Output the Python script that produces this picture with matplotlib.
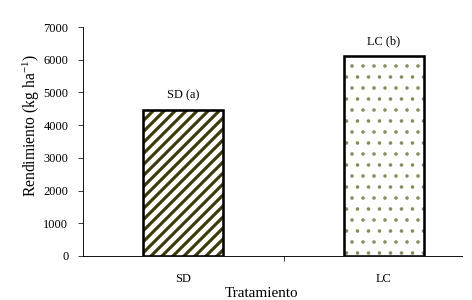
import numpy as np
import matplotlib
matplotlib.use("Agg")
import matplotlib.pyplot as plt

# data
tratamientos = ['SD', 'LC']
rendimiento = [4470, 6100]
letras = ['a', 'b']
yticks = [0, 1000, 2000, 3000, 4000, 5000, 6000, 7000]

plt.rcParams['font.family'] = ['Liberation Serif', 'DejaVu Serif']
plt.rcParams['mathtext.fontset'] = 'stix'

DPI = 66
fig = plt.figure(figsize=(472 / DPI, 300 / DPI), dpi=DPI)
ax = fig.add_axes([83 / 472, 1 - 256 / 300, (462 - 83) / 472, (256 - 27) / 300])

x = np.arange(len(tratamientos))
hatches = ['//', '.']
hcolors = ['#3b3b0a', '#8c8c62']
hlw = [3.4, 1.5]

for i in range(len(x)):
    with plt.rc_context({'hatch.linewidth': hlw[i]}):
        ax.bar(x[i], rendimiento[i], width=0.4, color='white',
               edgecolor=hcolors[i], hatch=hatches[i], linewidth=0, zorder=2)
    ax.bar(x[i], rendimiento[i], width=0.4, color='none',
           edgecolor='black', linewidth=2.8, zorder=3)
    ax.annotate(f'{tratamientos[i]} ({letras[i]})', (x[i], rendimiento[i]),
                xytext=(0, 9.5), textcoords='offset points',
                ha='center', va='bottom', fontsize=13.5)

ax.set_xlim(-0.4975, 1.388)
ax.set_ylim(0, 7000)
ax.set_yticks(yticks)
ax.tick_params(axis='y', direction='out', length=5, width=0.8, pad=11, labelsize=13.5)

# category labels on minor ticks, a single tick mark between the bars
ax.set_xticks([0.5])
ax.set_xticklabels([''])
ax.set_xticks(x, minor=True)
ax.set_xticklabels(tratamientos, minor=True)
ax.tick_params(axis='x', which='major', direction='out', length=5, width=0.8)
ax.tick_params(axis='x', which='minor', length=0, pad=19, labelsize=13.5)

for s in ['top', 'right']:
    ax.spines[s].set_visible(False)
for s in ['left', 'bottom']:
    ax.spines[s].set_linewidth(1.0)

ax.set_xlabel('Tratamiento', fontsize=16.5)
ax.set_ylabel('Rendimiento (kg ha$^{\\mathregular{-1}}$)', fontsize=17)
ax.xaxis.set_label_coords((262 - 83) / 379, -(287 - 256) / 229)
ax.yaxis.set_label_coords(-(83 - 42) / 379, (256 - 125) / 229)

fig.savefig('out.png', dpi=DPI)
